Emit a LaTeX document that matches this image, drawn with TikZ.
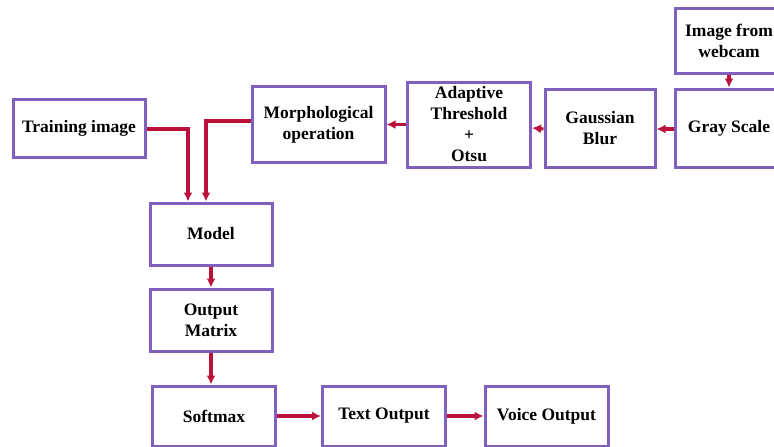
\documentclass[tikz,border=0pt]{standalone}
\usepackage{fontspec}
\setmainfont{Liberation Serif}
\usetikzlibrary{arrows.meta, positioning}

\definecolor{boxpurple}{RGB}{128,96,190}
\definecolor{arrowred}{RGB}{186,18,58}

\begin{document}
\begin{tikzpicture}[x=1pt, y=-1pt, >={Latex[length=9pt,width=9pt]},
    block/.style={draw=boxpurple, line width=3pt, fill=white, align=center,
        inner sep=2pt, font=\bfseries\fontsize{17.5}{21}\selectfont},
    flow/.style={->, draw=arrowred, line width=3.2pt}]
    \clip (0,0) rectangle (774,447);
    \useasboundingbox (0,0) rectangle (774,447);

    % Bloques de preprocesamiento
    \node[block, minimum width=132pt, minimum height=58pt] (train) at (79,128) {Training image};
    \node[block, minimum width=133pt, minimum height=76pt] (morph) at (318.5,124.5) {Morphological\\operation};
    \node[block, minimum width=123pt, minimum height=85pt] (adapt) at (469,124.5) {Adaptive\\Threshold\\+\\Otsu};
    \node[block, minimum width=110pt, minimum height=78pt] (gauss) at (600,128) {Gaussian\\Blur};
    \node[block, minimum width=108pt, minimum height=78pt] (gray) at (729,128) {Gray Scale};
    \node[block, minimum width=108pt, minimum height=65pt] (webcam) at (729,40.5) {Image from\\webcam};

    % Bloques del modelo y salida
    \node[block, minimum width=122pt, minimum height=62pt] (model) at (211,234) {Model};
    \node[block, minimum width=122pt, minimum height=62pt] (outmat) at (211,320) {Output\\Matrix};
    \node[block, minimum width=123pt, minimum height=60pt] (softmax) at (214,416) {Softmax};
    \node[block, minimum width=123pt, minimum height=60pt] (textout) at (384,416) {Text Output};
    \node[block, minimum width=123pt, minimum height=60pt] (voice) at (546.5,416) {Voice Output};

    % Flechas
    \draw[flow] (webcam) -- (gray);
    \draw[flow] ([yshift=-1pt]gray.west) -- ([yshift=-1pt]gauss.east);
    \draw[flow] ([yshift=-1pt]gauss.west) -- (gauss.west -| adapt.east);
    \draw[flow] (adapt.west) -- (adapt.west -| morph.east);
    \draw[flow] ([yshift=3.5pt]morph.west) -| ([xshift=-5pt]model.north);
    \draw[flow] ([yshift=-1pt]train.east) -| ([xshift=-23pt]model.north);
    \draw[flow] (model) -- (outmat);
    \draw[flow] (outmat.south) -- (outmat.south |- softmax.north);
    \draw[flow] (softmax) -- (textout);
    \draw[flow] (textout) -- (voice);
\end{tikzpicture}
\end{document}
